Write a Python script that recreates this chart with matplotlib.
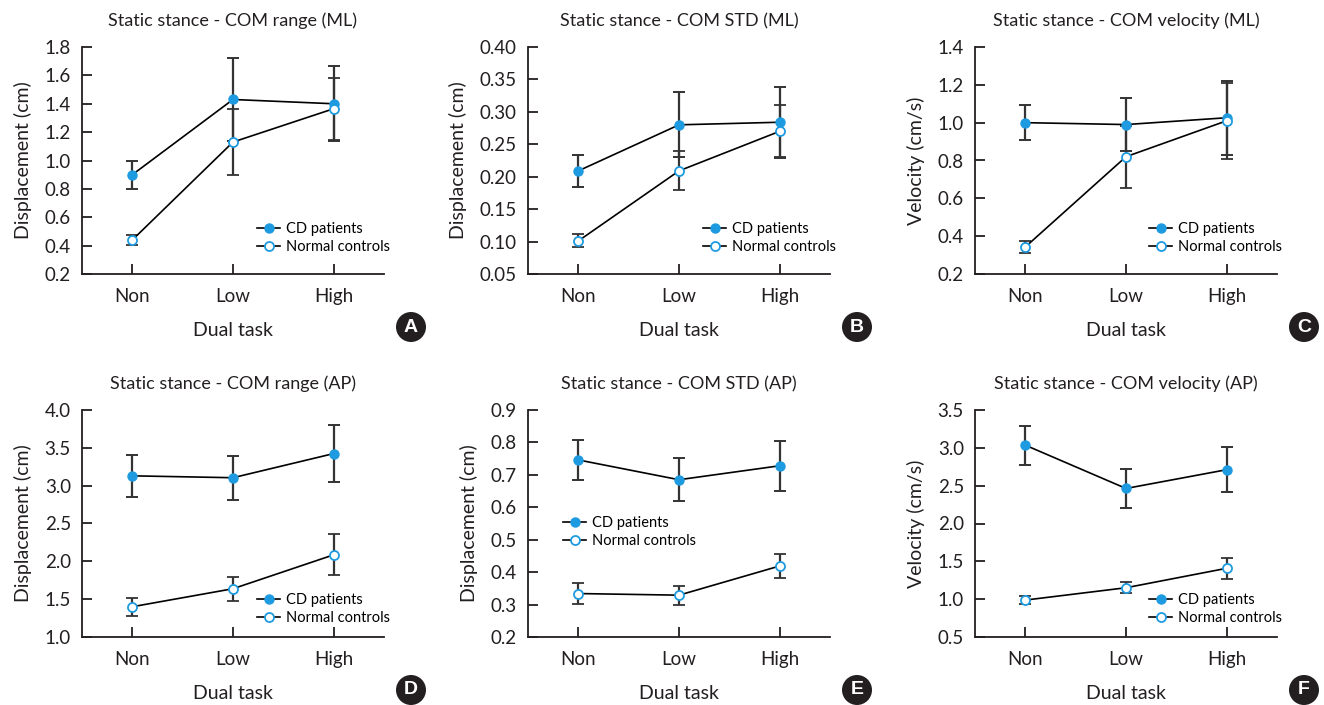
import matplotlib
matplotlib.use('Agg')
from matplotlib import pyplot as plt
from matplotlib.patches import Ellipse
from matplotlib.lines import Line2D

plt.rcParams['font.family'] = ['Lato', 'DejaVu Sans']

cats = ['Non', 'Low', 'High']

# COM range (ML)
range_ml_cd = [0.90, 1.43, 1.40]
range_ml_cd_err = [0.10, 0.29, 0.265]
range_ml_nc = [0.44, 1.13, 1.365]
range_ml_nc_err = [0.035, 0.23, 0.22]

# COM STD (ML)
std_ml_cd = [0.209, 0.280, 0.284]
std_ml_cd_err = [0.025, 0.050, 0.055]
std_ml_nc = [0.101, 0.209, 0.270]
std_ml_nc_err = [0.010, 0.030, 0.040]

# COM velocity (ML)
vel_ml_cd = [1.00, 0.99, 1.026]
vel_ml_cd_err = [0.093, 0.14, 0.195]
vel_ml_nc = [0.343, 0.82, 1.01]
vel_ml_nc_err = [0.03, 0.165, 0.20]

# COM range (AP)
range_ap_cd = [3.13, 3.105, 3.424]
range_ap_cd_err = [0.28, 0.29, 0.38]
range_ap_nc = [1.40, 1.638, 2.086]
range_ap_nc_err = [0.12, 0.16, 0.27]

# COM STD (AP)
std_ap_cd = [0.746, 0.685, 0.728]
std_ap_cd_err = [0.063, 0.067, 0.077]
std_ap_nc = [0.334, 0.329, 0.419]
std_ap_nc_err = [0.031, 0.029, 0.038]

# COM velocity (AP)
vel_ap_cd = [3.035, 2.463, 2.711]
vel_ap_cd_err = [0.26, 0.257, 0.295]
vel_ap_nc = [0.988, 1.151, 1.408]
vel_ap_nc_err = [0.05, 0.07, 0.14]

W, H = 1324, 705
BLUE = '#1e9be0'
INK = '#231f20'

fig = plt.figure(figsize=(W / 100, H / 100), dpi=100)

panels = [
    # title, ylabel, cd, cd_err, nc, nc_err, ylim, step, fmt, axes px (left, top), legend px (x, y), badge
    ('Static stance - COM range (ML)', 'Displacement (cm)', range_ml_cd, range_ml_cd_err,
     range_ml_nc, range_ml_nc_err, (0.2, 1.8), 0.2, '%.1f', (82, 47), (257, 222), 'A'),
    ('Static stance - COM STD (ML)', 'Displacement (cm)', std_ml_cd, std_ml_cd_err,
     std_ml_nc, std_ml_nc_err, (0.05, 0.40), 0.05, '%.2f', (528, 47), (703, 222), 'B'),
    ('Static stance - COM velocity (ML)', 'Velocity (cm/s)', vel_ml_cd, vel_ml_cd_err,
     vel_ml_nc, vel_ml_nc_err, (0.2, 1.4), 0.2, '%.1f', (975, 47), (1149, 222), 'C'),
    ('Static stance - COM range (AP)', 'Displacement (cm)', range_ap_cd, range_ap_cd_err,
     range_ap_nc, range_ap_nc_err, (1.0, 4.0), 0.5, '%.1f', (82, 410), (257, 593), 'D'),
    ('Static stance - COM STD (AP)', 'Displacement (cm)', std_ap_cd, std_ap_cd_err,
     std_ap_nc, std_ap_nc_err, (0.2, 0.9), 0.1, '%.1f', (528, 410), (563, 516), 'E'),
    ('Static stance - COM velocity (AP)', 'Velocity (cm/s)', vel_ap_cd, vel_ap_cd_err,
     vel_ap_nc, vel_ap_nc_err, (0.5, 3.5), 0.5, '%.1f', (975, 410), (1149, 593), 'F'),
]

handles = [
    Line2D([], [], color='black', lw=1.2, marker='o', ms=6.5, mfc=BLUE, mec=BLUE),
    Line2D([], [], color='black', lw=1.2, marker='o', ms=6.5, mfc='white', mec=BLUE, mew=1.3),
]
names = ['CD patients', 'Normal controls']

aw, ah = 302, 227
for title, ylab, cd, cde, nc, nce, ylim, step, fmt, (lx, ty), (gx, gy), badge in panels:
    ax = fig.add_axes([lx / W, 1 - (ty + ah) / H, aw / W, ah / H])
    x = range(len(cats))
    ax.errorbar(x, cd, yerr=cde, color='black', lw=1.2, ecolor='#333333', elinewidth=1.6,
                capsize=4, capthick=1.4, marker='o', ms=6.5, mfc=BLUE, mec=BLUE, zorder=3)
    ax.errorbar(x, nc, yerr=nce, color='black', lw=1.2, ecolor='#333333', elinewidth=1.6,
                capsize=4, capthick=1.4, marker='o', ms=6.5, mfc='white', mec=BLUE,
                mew=1.3, zorder=3)
    ax.set_xlim(-0.5, 2.5)
    ax.set_ylim(*ylim)
    n = int(round((ylim[1] - ylim[0]) / step))
    ticks = [ylim[0] + i * step for i in range(n + 1)]
    ax.set_yticks(ticks)
    ax.set_yticklabels([fmt % t for t in ticks])
    ax.set_xticks(list(x))
    ax.set_xticklabels(cats)
    for s in ['top', 'right']:
        ax.spines[s].set_visible(False)
    for s in ['left', 'bottom']:
        ax.spines[s].set_linewidth(1.3)
        ax.spines[s].set_color(INK)
    ax.tick_params(direction='in', length=7, width=1.3, color=INK,
                   labelsize=13.5, colors=INK)
    ax.tick_params(axis='y', pad=8)
    ax.tick_params(axis='x', pad=10)
    ax.set_title(title, fontsize=13, color=INK, pad=15)
    ax.set_xlabel('Dual task', fontsize=14, color=INK, labelpad=12)
    ax.set_ylabel(ylab, fontsize=14, color=INK, labelpad=9)
    ax.legend(handles, names, loc='upper left', bbox_to_anchor=(gx / W, 1 - gy / H),
              bbox_transform=fig.transFigure, frameon=False, fontsize=10.5,
              borderpad=0, borderaxespad=0, handlelength=1.6, handletextpad=0.4,
              labelspacing=0.3)

    # circular panel badge
    bx = lx + 329
    by = ty + 280
    fig.add_artist(Ellipse((bx / W, 1 - by / H), 30 / W, 30 / H,
                           transform=fig.transFigure, fc=INK, ec='none'))
    fig.text(bx / W, 1 - by / H, badge, ha='center', va='center', color='white',
             fontsize=14, fontweight='bold', family=['Liberation Sans', 'DejaVu Sans'])

fig.savefig('out.png', dpi=100)
